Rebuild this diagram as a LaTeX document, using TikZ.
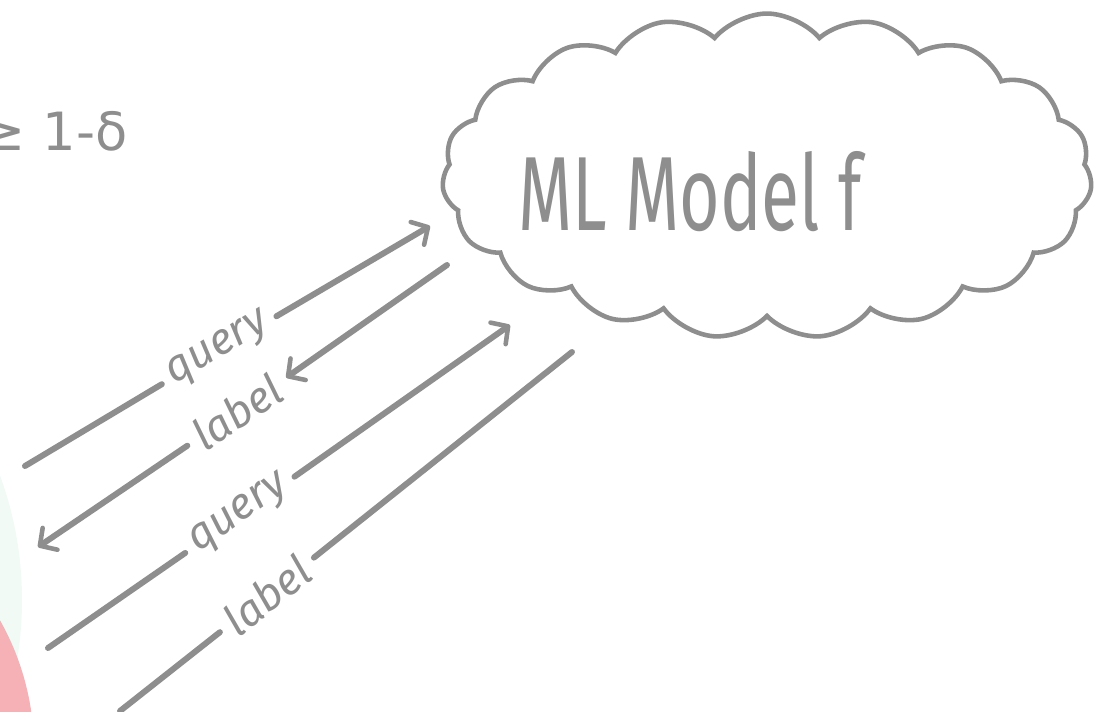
\documentclass[tikz,border=0pt]{standalone}
\usepackage{amsmath}
\usepackage{amssymb}
\usepackage{fontspec}
\setmainfont{Fira Sans}
\newfontfamily\symbolfont{DejaVu Sans}
\usetikzlibrary{shapes.symbols}
\usetikzlibrary{arrows.meta}

\definecolor{pencil}{HTML}{8E8E8E}
\definecolor{blush}{HTML}{F5B1B6}
\definecolor{mint}{HTML}{F1FAF5}

\begin{document}
\begin{tikzpicture}[x=0.02cm,y=-0.02cm,
    sketch/.style={draw=pencil,line width=3.4pt,line cap=round},
    headed/.style={-{Straight Barb[length=7pt,width=15pt,line width=2.6pt,round]}},
    word/.style={text=pencil,font=\fontsize{25}{30}\selectfont\itshape,inner xsep=6pt}]
  \useasboundingbox (0,0) rectangle (1096,711);
  \clip (0,0) rectangle (1096,711);
  \fill[mint] (-340,600) circle[radius=362];
  \fill[blush] (-230,750) circle[radius=264];

  \node[text=pencil,anchor=base east,inner sep=0pt,font=\symbolfont\fontsize{30}{36}\selectfont] (bound) at (128,150) {≥ 1-δ};
  \node[cloud,cloud puffs=19,cloud puff arc=100,aspect=2,draw=pencil,line width=2.6pt,
        minimum width=13cm,minimum height=6.5cm] (model) at (767,176) {};
  \node[text=pencil,font=\fontsize{60}{70}\selectfont,xscale=0.66,transform shape] (mltext) at (690,192) {ML Model f};

  % first query / label pair
  \coordinate (q1a) at (25,466);
  \coordinate (q1b) at (430,226);
  \node[word,rotate=31] (q1) at (219,350) {query};
  \coordinate (l1a) at (447,265);
  \coordinate (l1b) at (38,547);
  \node[word,rotate=34] (l1) at (237,412) {label};

  % second query / label pair
  \coordinate (q2a) at (48,648);
  \coordinate (q2b) at (510,325);
  \node[word,rotate=35] (q2) at (240,515) {query};
  \coordinate (l2a) at (120,711);
  \coordinate (l2b) at (572,352);
  \node[word,rotate=38] (l2) at (267,595) {label};

  \draw (q1a) edge[sketch] (q1);
  \draw (q1) edge[sketch,headed] (q1b);
  \draw (l1a) edge[sketch,headed] (l1);
  \draw (l1) edge[sketch,headed] (l1b);
  \draw (q2a) edge[sketch] (q2);
  \draw (q2) edge[sketch,headed] (q2b);
  \draw (l2a) edge[sketch] (l2);
  \draw (l2) edge[sketch] (l2b);
\end{tikzpicture}
\end{document}
